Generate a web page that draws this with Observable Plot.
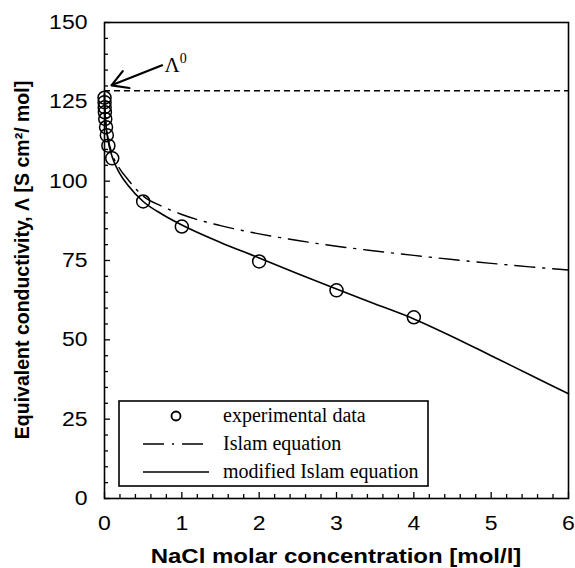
<!DOCTYPE html>
<html>
<head>
<meta charset="utf-8">
<script src="https://cdn.jsdelivr.net/npm/d3@7"></script>
<script src="https://cdn.jsdelivr.net/npm/@observablehq/plot@0.6"></script>
<style>
  html, body { margin: 0; padding: 0; background: #fff; }
  #chart { position: relative; width: 575px; height: 568px; }
</style>
</head>
<body>
<div id="chart"></div>
<script>
// ---- data ----
const xTicks = [0, 1, 2, 3, 4, 5, 6];
const yTicks = [0, 25, 50, 75, 100, 125, 150];
const xMinor = d3.range(0, 6.0001, 0.2).map(v => +v.toFixed(1));
const yMinor = d3.range(0, 150.001, 5);
const lambda0 = 128.5;

// experimental data (mol/l, S cm2/mol)
const expC = [0.0005, 0.001, 0.002, 0.005, 0.01, 0.02, 0.03, 0.05, 0.1, 0.5, 1, 2, 3, 4];
const expL = [126.3, 124.9, 123.3, 121.7, 119.6, 117.0, 114.5, 111.2, 107.2, 93.6, 85.7, 74.7, 65.6, 57.1];

// curves
const curveC    = [0, 0.001, 0.005, 0.01, 0.02, 0.05, 0.1, 0.2, 0.3, 0.5, 0.75, 1, 1.5, 2, 2.5, 3, 3.5, 4, 4.5, 5, 5.5, 6];
const islamL    = [127.5, 125.3, 122.4, 120.5, 117.8, 113.0, 108.6, 103.8, 100.6, 95.3, 92.0, 89.5, 86.0, 83.4, 81.3, 79.5, 78.0, 76.6, 75.3, 74.1, 73.0, 72.0];
const modIslamL = [127.5, 125.2, 122.2, 120.2, 117.4, 112.3, 107.6, 102.3, 98.8, 93.6, 89.5, 86.2, 80.7, 75.8, 70.8, 66.0, 61.3, 56.6, 51.0, 45.0, 39.0, 33.0];

const legendLabels = ["experimental data", "Islam equation", "modified Islam equation"];
const xTitle = "NaCl molar concentration [mol/l]";
const yTitle = "Equivalent conductivity, Λ [S cm²/ mol]";

// annotation arrow (data coordinates)
const arrowFrom = {c: 0.745, l: 136.5};
const arrowTo = {c: 0.09, l: 130.2};

// ---- build ----
const expData = expC.map((c, i) => ({c, l: expL[i]}));
const islamData = curveC.map((c, i) => ({c, l: islamL[i]}));
const modData = curveC.map((c, i) => ({c, l: modIslamL[i]}));

const majorY = 1.9, minorY = 1.25;      // tick lengths along y (data units)
const majorX = 0.078, minorX = 0.052;   // tick lengths along x (data units)
const SANS = "'Liberation Sans', Arial, sans-serif";
const SERIF = "'Liberation Serif', 'Times New Roman', serif";

const plot = Plot.plot({
  width: 575,
  height: 568,
  marginLeft: 104,
  marginRight: 7,
  marginTop: 22,
  marginBottom: 70,
  x: {domain: [0, 6]},
  y: {domain: [0, 150]},
  style: {fontFamily: SANS, fontSize: "20px", color: "#000", background: "#fff"},
  marks: [
    Plot.ruleY([lambda0], {stroke: "#000", strokeWidth: 1.5, strokeDasharray: "6,4"}),
    Plot.line(islamData, {x: "c", y: "l", stroke: "#000", strokeWidth: 1.4, strokeDasharray: "20,8,2,8", curve: "monotone-x"}),
    Plot.line(modData, {x: "c", y: "l", stroke: "#000", strokeWidth: 1.6, curve: "monotone-x"}),
    Plot.dot(expData, {x: "c", y: "l", r: 6.5, stroke: "#000", strokeWidth: 1.5, fill: "none"}),
    Plot.arrow([{x1: arrowFrom.c, y1: arrowFrom.l, x2: arrowTo.c, y2: arrowTo.l}], {x1: "x1", y1: "y1", x2: "x2", y2: "y2", stroke: "#000", strokeWidth: 2.2, headLength: 16}),
    // inward ticks
    Plot.ruleX(xMinor.filter(v => !xTicks.includes(v)), {x: d => d, y1: 0, y2: minorY, stroke: "#000", strokeWidth: 1.3}),
    Plot.ruleX(xTicks, {x: d => d, y1: 0, y2: majorY, stroke: "#000", strokeWidth: 1.3}),
    Plot.ruleY(yMinor.filter(v => !yTicks.includes(v)), {y: d => d, x1: 0, x2: minorX, stroke: "#000", strokeWidth: 1.3}),
    Plot.ruleY(yTicks, {y: d => d, x1: 0, x2: majorX, stroke: "#000", strokeWidth: 1.3}),
    Plot.axisX({ticks: xTicks, tickFormat: d => String(d), tickSize: 0, tickPadding: 17, label: null, fontSize: 20}),
    Plot.axisY({ticks: yTicks, tickFormat: d => String(d), tickSize: 0, tickPadding: 17, label: null, fontSize: 20}),
    Plot.frame({stroke: "#000", strokeWidth: 1.6})
  ]
});

document.getElementById("chart").appendChild(plot);

const svg = d3.select(plot);
const xs = plot.scale("x"), ys = plot.scale("y");

// widen text horizontally (reference glyphs are horizontally stretched)
function widen(el, k) {
  try {
    const len = el.getComputedTextLength();
    if (len > 0) {
      el.setAttribute("textLength", (len * k).toFixed(1));
      el.setAttribute("lengthAdjust", "spacingAndGlyphs");
    }
  } catch (e) {}
}
svg.selectAll("g[aria-label$='tick label'] text").each(function () { widen(this, 1.15); });

// axis titles
const xt = svg.append("text")
  .attr("x", (xs.apply(0) + xs.apply(6)) / 2)
  .attr("y", 563)
  .attr("text-anchor", "middle")
  .attr("font-family", SANS)
  .attr("font-weight", "bold")
  .attr("font-size", 20)
  .attr("fill", "#000")
  .text(xTitle);
widen(xt.node(), 1.2);

svg.append("text")
  .attr("transform", `translate(29,${(ys.apply(0) + ys.apply(150)) / 2}) rotate(-90)`)
  .attr("text-anchor", "middle")
  .attr("font-family", SANS)
  .attr("font-weight", "bold")
  .attr("font-size", 19.5)
  .attr("fill", "#000")
  .text(yTitle);

// Λ0 label
const lab = svg.append("text")
  .attr("x", xs.apply(arrowFrom.c) + 3)
  .attr("y", ys.apply(arrowFrom.l) + 7)
  .attr("text-anchor", "start")
  .attr("font-family", SERIF)
  .attr("font-size", 21)
  .attr("fill", "#000");
lab.append("tspan").text("Λ");
lab.append("tspan").attr("font-size", 14).attr("dy", -9).text("0");

// legend
const lx = 119, ly = 401, lw = 309, lh = 85;
const lg = svg.append("g");
lg.append("rect").attr("x", lx).attr("y", ly).attr("width", lw).attr("height", lh)
  .attr("fill", "#fff").attr("stroke", "#000").attr("stroke-width", 1.6);
const rows = [ly + 15, ly + 43, ly + 71];
lg.append("circle").attr("cx", 176).attr("cy", rows[0]).attr("r", 4.5)
  .attr("fill", "none").attr("stroke", "#000").attr("stroke-width", 1.8);
lg.append("line").attr("x1", 143).attr("x2", 209).attr("y1", rows[1]).attr("y2", rows[1])
  .attr("stroke", "#000").attr("stroke-width", 1.4).attr("stroke-dasharray", "21,8,2,8");
lg.append("line").attr("x1", 143).attr("x2", 209).attr("y1", rows[2]).attr("y2", rows[2])
  .attr("stroke", "#000").attr("stroke-width", 1.6);
legendLabels.forEach((t, i) => {
  lg.append("text").attr("x", 223).attr("y", rows[i] + 6)
    .attr("text-anchor", "start")
    .attr("font-family", SERIF)
    .attr("font-size", 20).attr("fill", "#000").text(t);
});
</script>
</body>
</html>
